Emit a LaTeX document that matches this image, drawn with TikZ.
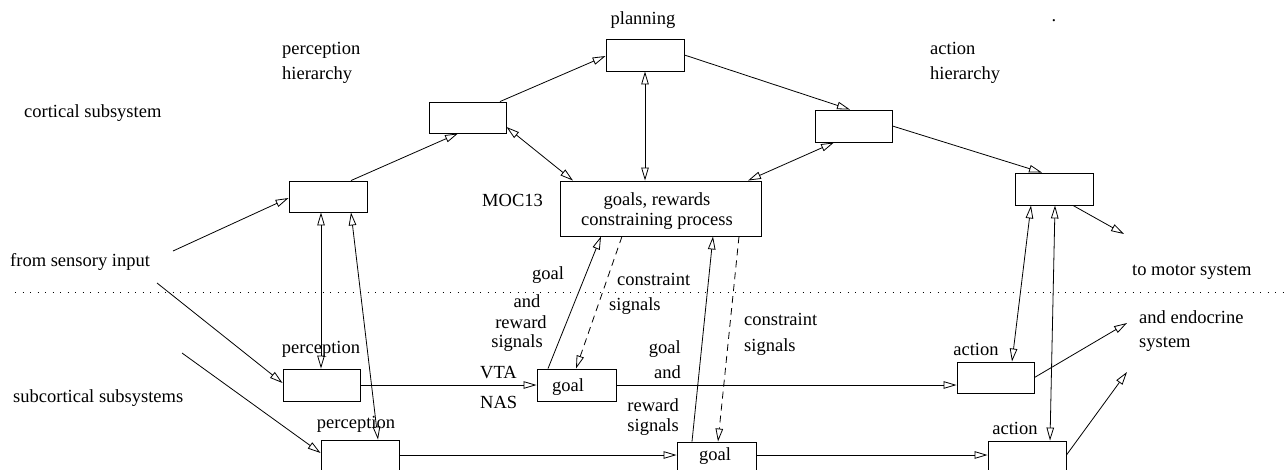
\documentclass[tikz,border=0pt]{standalone}
\usepackage{fontspec}
\setmainfont{Liberation Serif}
\usetikzlibrary{arrows.meta}
\begin{document}
\begin{tikzpicture}[x=1pt,y=-1pt,
  every node/.style={font=\fontsize{18.5}{25}\selectfont},
  box/.style={draw, line width=0.9pt, inner sep=0pt, minimum width=78pt, minimum height=32pt},
  lbl/.style={inner sep=0pt},
  tip/.tip={Triangle[open,length=13pt,width=7.5pt,line width=0.8pt]},
  arr/.style={-tip, line width=0.8pt},
  darr/.style={tip-tip, line width=0.8pt},
  dsh/.style={-tip, line width=0.8pt, dash pattern=on 7pt off 5pt}
]
\useasboundingbox (0,0) rectangle (1285,469);

% dotted separator
\coordinate (dl) at (15,292);
\coordinate (dr) at (1285,292);
\draw[line width=0.9pt, dash pattern=on 1pt off 6.5pt] (dl) -- (dr);

% boxes
\node[box] (plan) at (645,55) {};
\node[box, minimum width=77pt, minimum height=31pt] (P2) at (467.5,117.5) {};
\node[box, minimum height=31pt] (P1) at (328,196.5) {};
\node[box, minimum width=77pt] (A2) at (853.5,126) {};
\node[box] (A1) at (1054,189) {};
\node[box, minimum width=201pt, minimum height=55pt] (MOC) at (660.5,208.5) {};
\node[lbl, align=center, font=\fontsize{18.5}{19.5}\selectfont] (MOCt) at (657,211) {goals, rewards\\constraining process};
\node[box, minimum width=77pt] (perc1) at (321.5,385) {};
\node[box, minimum width=79pt] (goal1) at (576.5,385) {};
\node[box, minimum width=77pt, minimum height=31pt] (act1) at (995.5,377.5) {};
\node[box] (perc2) at (360,456) {};
\node[box, minimum width=79pt] (goal2) at (716.5,458) {};
\node[box] (act2) at (1027,457) {};

\node[lbl] (g1t) at (568,387) {goal};
\node[lbl] (g2t) at (715,456) {goal};

% labels
\node[lbl] (lplan) at (643,20) {planning};
\node[lbl, anchor=west, align=left] (lph) at (282,62.5) {perception\\hierarchy};
\node[lbl, anchor=west, align=left] (lah) at (930,62.5) {action\\hierarchy};
\node[lbl] (ldot) at (1054,21) {.};
\node[lbl, anchor=west] (lcs) at (24,113) {cortical subsystem};
\node[lbl, anchor=west] (lsi) at (10,262) {from sensory input};
\node[lbl, anchor=west] (lss) at (13,398) {subcortical subsystems};
\node[lbl, anchor=west] (lmoc) at (482,200) {MOC13};
\node[lbl, anchor=west] (lms) at (1132,272) {to motor system};
\node[lbl, anchor=west, align=left, font=\fontsize{18.5}{23.5}\selectfont] (les) at (1139,331) {and endocrine\\system};
\node[lbl] (lg1) at (548,275) {goal};
\node[lbl] (la1) at (527,301) {and};
\node[lbl] (lr1) at (521,322) {reward};
\node[lbl] (ls1) at (517,343) {signals};
\node[lbl, anchor=west] (lc1) at (617,279) {constraint};
\node[lbl, anchor=west] (lcs1) at (609,306) {signals};
\node[lbl, anchor=west, align=left, font=\fontsize{18.5}{26}\selectfont] (lc2) at (744,334) {constraint\\signals};
\node[lbl, anchor=east, align=right] (lga2) at (681,359.5) {goal\\and};
\node[lbl, anchor=east, align=right, font=\fontsize{18.5}{20}\selectfont] (lrs2) at (679,417.5) {reward\\signals};
\node[lbl, anchor=west] (lvta) at (480,373) {VTA};
\node[lbl, anchor=west] (lnas) at (480,402) {NAS};
\node[lbl] (lp1) at (321,349) {perception};
\node[lbl] (lp2) at (356,424) {perception};
\node[lbl] (lac1) at (976,349) {action};
\node[lbl] (lac2) at (1015,428) {action};

% free ends
\coordinate (s1) at (173,251);
\coordinate (s2) at (157,283);
\coordinate (s3) at (182,353);
\coordinate (o1) at (1124,234);
\coordinate (o2) at (1127,323);
\coordinate (o3) at (1127,372);

% connectors
\draw[arr] (s1) -- ([yshift=-1.5pt]P1.west);
\draw[arr] (s2) -- ([yshift=2pt]perc1.west);
\draw[arr] (s3) -- ([yshift=3pt]perc2.west);
\draw[arr] ([xshift=23pt]P1.north) -- ([xshift=-9.5pt]P2.south);
\draw[arr] ([xshift=32.5pt]P2.north) -- ([yshift=-1pt]plan.west);
\draw[darr] ([yshift=-9.5pt]P2.east) -- ([xshift=-87.5pt]MOC.north);
\draw[darr] (plan.south) -- ([xshift=-15.5pt]MOC.north);
\draw[arr] (plan.east) -- ([xshift=-3.5pt]A2.north);
\draw[darr] ([xshift=-19.5pt]A2.south) -- ([xshift=87.5pt]MOC.north);
\draw[arr] (A2.east) -- ([xshift=-12pt]A1.north);
\draw[arr] ([xshift=19pt]A1.south) -- (o1);
\draw[darr] ([xshift=-7pt]P1.south) -- ([xshift=-0.5pt]perc1.north);
\draw[darr] ([xshift=23pt]P1.south) -- ([xshift=18pt]perc2.north);
\draw[arr] (perc1.east) -- (goal1.west);
\draw[arr] ([yshift=1pt]perc2.east) -- ([yshift=3pt]goal2.west);
\draw[arr] ([xshift=-28.5pt]goal1.north) -- ([xshift=-59.5pt]MOC.south);
\draw[dsh] ([xshift=-38.5pt]MOC.south) -- ([xshift=-0.5pt]goal1.north);
\draw[arr] ([xshift=-24.5pt]goal2.north) -- ([xshift=52.5pt]MOC.south);
\draw[dsh] ([xshift=78.5pt]MOC.south) -- ([xshift=1.5pt]goal2.north);
\draw[arr] (goal1.east) -- ([yshift=-7.5pt]act1.west);
\draw[arr] ([yshift=3pt]goal2.east) -- ([yshift=2pt]act2.west);
\draw[darr] ([xshift=-23pt]A1.south) -- ([xshift=16.5pt]act1.north);
\draw[darr] ([xshift=1pt]A1.south) -- ([xshift=23pt]act2.north);
\draw[arr] (act1.east) -- (o2);
\draw[arr] ([yshift=2pt]act2.east) -- (o3);
\end{tikzpicture}
\end{document}
